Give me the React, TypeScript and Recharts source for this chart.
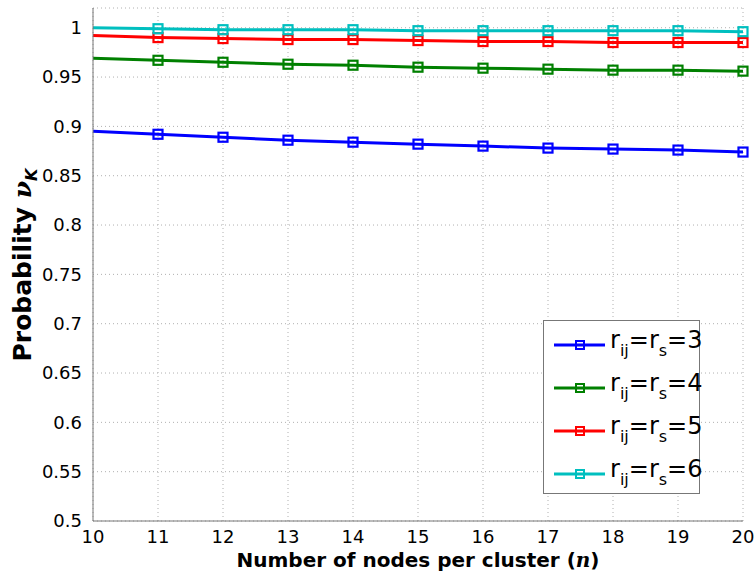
import { LineChart, Line, XAxis, YAxis, CartesianGrid } from "recharts";

const nodes = [10, 11, 12, 13, 14, 15, 16, 17, 18, 19, 20];
const probR3 = [0.895, 0.892, 0.889, 0.886, 0.884, 0.882, 0.880, 0.878, 0.877, 0.876, 0.874];
const probR4 = [0.969, 0.967, 0.965, 0.963, 0.962, 0.960, 0.959, 0.958, 0.957, 0.957, 0.956];
const probR5 = [0.992, 0.990, 0.989, 0.988, 0.988, 0.987, 0.986, 0.986, 0.985, 0.985, 0.985];
const probR6 = [1.0, 0.999, 0.998, 0.998, 0.998, 0.997, 0.997, 0.997, 0.997, 0.997, 0.996];
const yTicks = [0.5, 0.55, 0.6, 0.65, 0.7, 0.75, 0.8, 0.85, 0.9, 0.95, 1];

const series = [
  { key: "r3", label: "3", color: "#0000ff" },
  { key: "r4", label: "4", color: "#008000" },
  { key: "r5", label: "5", color: "#ff0000" },
  { key: "r6", label: "6", color: "#00bfbf" },
];

const data = nodes.map((n, i) => ({
  n,
  r3: probR3[i],
  r4: probR4[i],
  r5: probR5[i],
  r6: probR6[i],
}));

const FONT = "'DejaVu Sans', Verdana, sans-serif";

const squareDot = (color: string) => (props: any) => {
  const { cx, cy, index } = props;
  if (index === 0 || cx == null) return <g key={`d-${index}`} />;
  return (
    <rect
      key={`d-${index}`}
      x={cx - 4.5}
      y={cy - 4.5}
      width={9}
      height={9}
      fill="none"
      stroke={color}
      strokeWidth={2.2}
    />
  );
};

const YLabel = () => (
  <text
    transform="translate(31, 265) rotate(-90)"
    textAnchor="middle"
    fontFamily={FONT}
    fontWeight="bold"
    fontSize={25}
    fill="#000"
  >
    Probability{" "}
    <tspan fontStyle="italic" fontFamily="'DejaVu Serif', serif">ν</tspan>
    <tspan fontStyle="italic" fontSize={16} dy={6}>K</tspan>
  </text>
);

const XLabel = () => (
  <text x={418} y={567} textAnchor="middle" fontFamily={FONT} fontWeight="bold" fontSize={20} fill="#000">
    Number of nodes per cluster (
    <tspan fontStyle="italic" fontFamily="'DejaVu Serif', serif">n</tspan>)
  </text>
);

const LegendBox = () => (
  <div
    style={{
      position: "absolute",
      left: 543,
      top: 320,
      width: 157,
      height: 174,
      border: "1px solid #777",
      background: "#fff",
      boxSizing: "border-box",
      fontFamily: FONT,
    }}
  >
    {series.map((s, i) => (
      <div
        key={s.key}
        style={{ position: "absolute", left: 0, top: 6 + i * 43, height: 36, display: "flex", alignItems: "center" }}
      >
        <svg width={62} height={36} style={{ display: "block" }}>
          <line x1={10} y1={18} x2={61} y2={18} stroke={s.color} strokeWidth={3} />
          <rect x={32} y={14} width={8} height={8} fill="none" stroke={s.color} strokeWidth={2} />
        </svg>
        <span style={{ fontSize: 24, color: "#000", whiteSpace: "nowrap", marginLeft: 4, lineHeight: "24px" }}>
          r<sub style={{ fontSize: 16, verticalAlign: "-8px" }}>ij</sub>=r
          <sub style={{ fontSize: 16, verticalAlign: "-8px" }}>s</sub>={s.label}
        </span>
      </div>
    ))}
  </div>
);

export default function App() {
  return (
    <div style={{ position: "absolute", left: 0, top: 0, width: 755, height: 575, background: "#fff" }}>
      <LineChart width={755} height={575} data={data} margin={{ top: 8, right: 12, bottom: 24, left: 33 }}>
        <CartesianGrid stroke="#b0b0b0" strokeDasharray="1 3" />
        <XAxis
          dataKey="n"
          type="number"
          domain={[10, 20]}
          ticks={nodes}
          stroke="#777"
          tickLine={false}
          height={30}
          tick={{ fill: "#000", fontSize: 18, fontFamily: FONT }}
          tickMargin={3}
        />
        <XAxis xAxisId="top" dataKey="n" type="number" domain={[10, 20]} orientation="top" stroke="#777" tick={false} tickLine={false} height={0} />
        <YAxis
          type="number"
          domain={[0.5, 1.02]}
          ticks={yTicks}
          allowDataOverflow
          width={60}
          stroke="#777"
          tickLine={false}
          tickFormatter={(v: number) => String(parseFloat(v.toFixed(2)))}
          tick={{ fill: "#000", fontSize: 18, fontFamily: FONT }}
          tickMargin={5}
        />
        <YAxis yAxisId="right" orientation="right" domain={[0.5, 1.02]} stroke="#777" tick={false} tickLine={false} width={0} />
        {series.map((s) => (
          <Line
            key={s.key}
            type="linear"
            dataKey={s.key}
            stroke={s.color}
            strokeWidth={3}
            dot={squareDot(s.color)}
            activeDot={false}
            isAnimationActive={false}
          />
        ))}
      </LineChart>
      <svg width={755} height={575} style={{ position: "absolute", left: 0, top: 0, pointerEvents: "none" }}>
        <YLabel />
        <XLabel />
      </svg>
      <LegendBox />
    </div>
  );
}
